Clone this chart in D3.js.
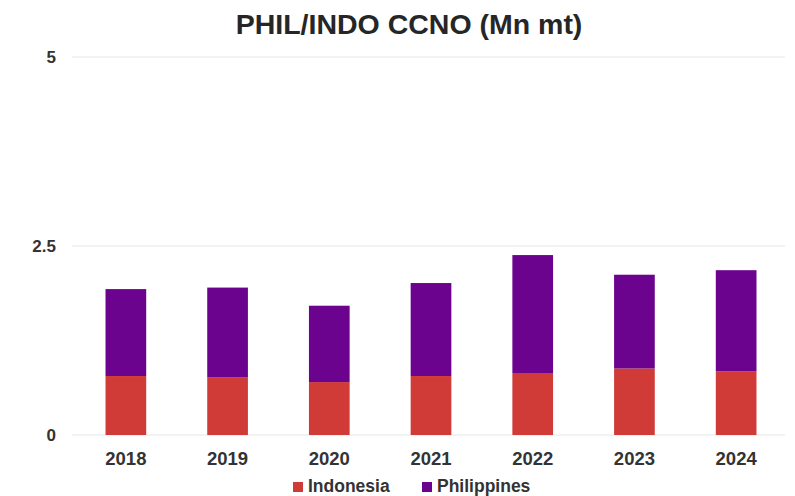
<!DOCTYPE html>
<html>
<head>
<meta charset="utf-8">
<script src="https://cdn.jsdelivr.net/npm/d3@7"></script>
<style>
  html, body { margin: 0; padding: 0; background: #fff; }
  svg { display: block; font-family: "Liberation Sans", Arial, Helvetica, sans-serif; }
</style>
</head>
<body>
<svg id="chart" width="795" height="496"></svg>
<script>
// Categories and stacked series (million metric tonnes)
const years = ["2018", "2019", "2020", "2021", "2022", "2023", "2024"];
const indonesia = [0.78, 0.76, 0.70, 0.78, 0.82, 0.88, 0.84];
const philippines = [1.15, 1.19, 1.01, 1.23, 1.56, 1.24, 1.34];
const yTicks = [0, 2.5, 5];
const seriesNames = ["Indonesia", "Philippines"];
const seriesColors = ["#d03b38", "#6b038e"];

const rows = years.map((y, i) => ({ year: y, Indonesia: indonesia[i], Philippines: philippines[i] }));

const svg = d3.select("#chart");
const W = 795, H = 496;
const plot = { left: 72, right: 785, top: 57, bottom: 435 };

const x = d3.scaleBand().domain(years)
  .range([plot.left + 3, plot.right + 2])
  .paddingInner(0.6).paddingOuter(0.3);
const y = d3.scaleLinear().domain([0, 5]).range([plot.bottom, plot.top]);

// Title
svg.append("text")
  .attr("x", 409).attr("y", 34)
  .attr("text-anchor", "middle")
  .attr("font-size", 28.5).attr("font-weight", "bold")
  .attr("fill", "#262626")
  .text("PHIL/INDO CCNO (Mn mt)");

// Gridlines
svg.append("g").selectAll("line").data(yTicks).join("line")
  .attr("x1", plot.left).attr("x2", plot.right)
  .attr("y1", d => y(d)).attr("y2", d => y(d))
  .attr("stroke", "#e6e6e6").attr("stroke-width", 1);

// Y axis labels
const yAxis = d3.axisLeft(y).tickValues(yTicks).tickSize(0).tickPadding(0)
  .tickFormat(d => d === 2.5 ? "2.5" : String(d));
svg.append("g")
  .attr("transform", `translate(56,0)`)
  .call(yAxis)
  .call(g => g.select(".domain").remove())
  .call(g => g.selectAll("text")
    .attr("font-size", 17).attr("font-weight", "bold")
    .attr("fill", "#333").attr("font-family", "Liberation Sans, Arial, sans-serif"));

// Stacked bars
const stack = d3.stack().keys(seriesNames)(rows);
const color = d3.scaleOrdinal().domain(seriesNames).range(seriesColors);

svg.append("g").selectAll("g").data(stack).join("g")
  .attr("fill", d => color(d.key))
  .selectAll("rect").data(d => d).join("rect")
  .attr("x", d => x(d.data.year))
  .attr("width", x.bandwidth())
  .attr("y", d => y(d[1]))
  .attr("height", d => y(d[0]) - y(d[1]));

// X axis labels
const xAxis = d3.axisBottom(x).tickSize(0).tickPadding(0);
svg.append("g")
  .attr("transform", `translate(0,${y(0) + 17})`)
  .call(xAxis)
  .call(g => g.select(".domain").remove())
  .call(g => g.selectAll("text")
    .attr("font-size", 18.5).attr("font-weight", "bold")
    .attr("fill", "#333").attr("font-family", "Liberation Sans, Arial, sans-serif"));

// Legend
const legendItems = [
  { name: "Indonesia", color: seriesColors[0], x: 293 },
  { name: "Philippines", color: seriesColors[1], x: 422 }
];
const lg = svg.append("g").selectAll("g").data(legendItems).join("g")
  .attr("transform", d => `translate(${d.x},482)`);
lg.append("rect").attr("width", 10).attr("height", 10).attr("y", 0)
  .attr("fill", d => d.color);
lg.append("text").attr("x", 15).attr("y", 10)
  .attr("font-size", 17.5).attr("font-weight", "bold")
  .attr("fill", "#333")
  .text(d => d.name);
</script>
</body>
</html>
